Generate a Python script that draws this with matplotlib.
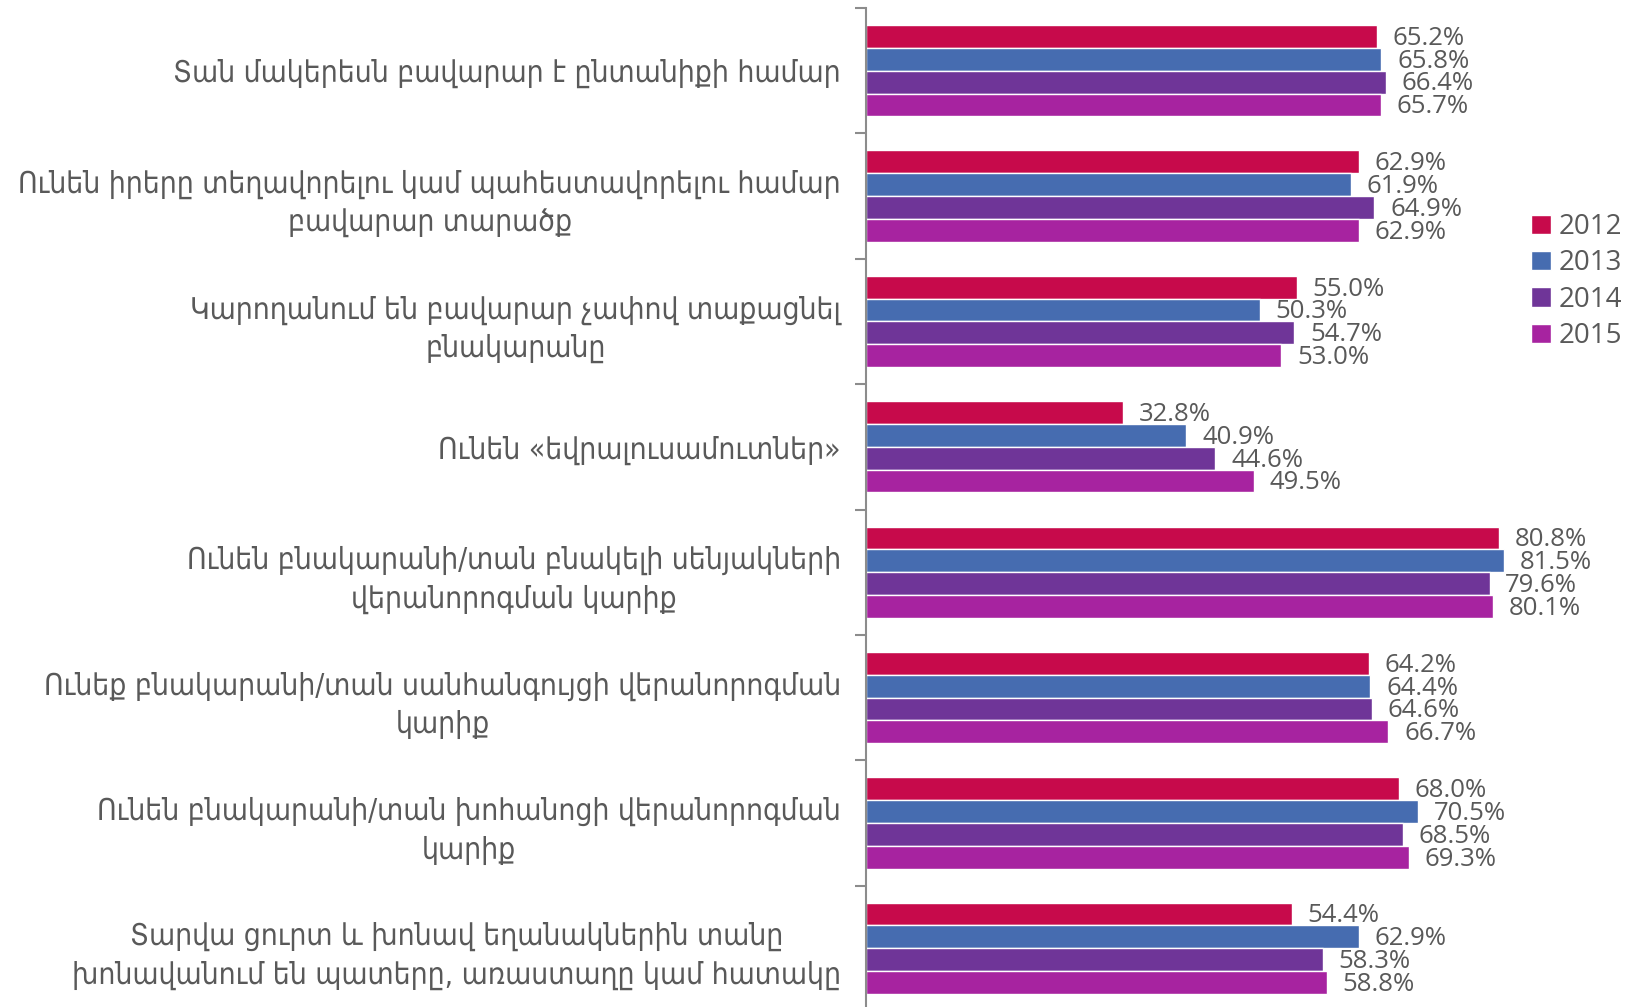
import matplotlib
matplotlib.use("Agg")
import matplotlib.pyplot as plt
import numpy as np

categories = [
    "Տան մակերեսն բավարար է ընտանիքի համար",
    "Ունեն իրերը տեղավորելու կամ պահեստավորելու համար\nբավարար տարածք",
    "Կարողանում են բավարար չափով տաքացնել\nբնակարանը",
    "Ունեն «եվրալուսամուտներ»",
    "Ունեն բնակարանի/տան բնակելի սենյակների\nվերանորոգման կարիք",
    "Ունեք բնակարանի/տան սանհանգույցի վերանորոգման\nկարիք",
    "Ունեն բնակարանի/տան խոհանոցի վերանորոգման\nկարիք",
    "Տարվա ցուրտ և խոնավ եղանակներին տանը\nխոնավանում են պատերը, առաստաղը կամ հատակը",
]
years = ["2012", "2013", "2014", "2015"]
v2012 = [65.2, 62.9, 55.0, 32.8, 80.8, 64.2, 68.0, 54.4]
v2013 = [65.8, 61.9, 50.3, 40.9, 81.5, 64.4, 70.5, 62.9]
v2014 = [66.4, 64.9, 54.7, 44.6, 79.6, 64.6, 68.5, 58.3]
v2015 = [65.7, 62.9, 53.0, 49.5, 80.1, 66.7, 69.3, 58.8]
series = [v2012, v2013, v2014, v2015]
colors = ["#C70A4B", "#466CB0", "#6F3598", "#A723A0"]

W, H = 1631, 1007
fig = plt.figure(figsize=(W / 100, H / 100), dpi=100)
ax_left = 866 / W
ax_right = 1571 / W
ax_top = (H - 8) / H
ax_bot = (H - 1011) / H
ax = fig.add_axes([ax_left, ax_bot, ax_right - ax_left, ax_top - ax_bot])

n = len(categories)
centers = np.arange(n)
bh = 0.182
offsets = np.array([-1.5, -0.5, 0.5, 1.5]) * bh
textc = "#595959"
handles = []
for i, (vals, col) in enumerate(zip(series, colors)):
    b = ax.barh(centers + offsets[i], vals, height=bh, color=col,
                edgecolor="white", linewidth=1.0, label=years[i])
    handles.append(b)
    for y, v in zip(centers + offsets[i], vals):
        ax.text(v + 2.0, y + 0.015, f"{v:.1f}%", va="center", ha="left",
                fontsize=18.5, color=textc, family=["Open Sans", "DejaVu Sans"])

ax.set_xlim(0, 90)
ax.set_ylim(n - 0.5, -0.5)
ax.set_xticks([])
for s in ["top", "right", "bottom"]:
    ax.spines[s].set_visible(False)
ax.spines["left"].set_color("#8C8C8C")
ax.spines["left"].set_linewidth(1.5)

ax.set_yticks(np.arange(n + 1) - 0.5)
ax.set_yticklabels([])
ax.tick_params(axis="y", which="major", length=8, width=1.5, color="#8C8C8C", direction="out")
ax.set_yticks(centers, minor=True)
ax.set_yticklabels(categories, minor=True, fontsize=21.5, color=textc,
                   family="DejaVu Sans", fontstretch="condensed",
                   multialignment="center", linespacing=1.42)
ax.tick_params(axis="y", which="minor", length=0, pad=18)

leg = fig.legend(handles=handles, labels=years, loc="upper left",
                 bbox_to_anchor=(1520 / W, 1 - 202 / H), frameon=False,
                 handlelength=0.7, handleheight=0.7,
                 handletextpad=0.3, labelspacing=0.3, borderaxespad=0,
                 prop={"family": ["Open Sans", "DejaVu Sans"], "size": 20})
for t in leg.get_texts():
    t.set_color(textc)

fig.savefig("out.png", dpi=100)
